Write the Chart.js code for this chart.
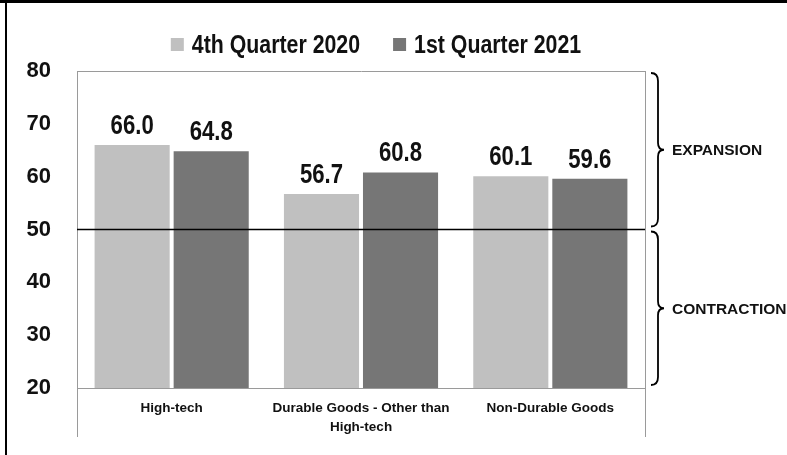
<!DOCTYPE html>
<html>
<head>
<meta charset="utf-8">
<script src="https://cdn.jsdelivr.net/npm/chart.js@4"></script>
<style>
  html, body { margin: 0; padding: 0; background: #fff; }
  #wrap { width: 787px; height: 455px; }
</style>
</head>
<body>
<div id="wrap"><canvas id="pmiChart" width="787" height="455"></canvas></div>
<script>
const categories = ['High-tech', ['Durable Goods - Other than', 'High-tech'], 'Non-Durable Goods'];
const seriesNames = ['4th Quarter 2020', '1st Quarter 2021'];
const q4_2020 = [66.0, 56.7, 60.1];
const q1_2021 = [64.8, 60.8, 59.6];
const yTicks = [20, 30, 40, 50, 60, 70, 80];
const threshold = 50;

const FONT = "'Liberation Sans', Arial, sans-serif";
const TEXT = '#111';
const colors = ['#c0c0c0', '#767676'];
const SQUEEZE = 0.82; // reference text is a condensed face

// condensed text helper
function narrowText(c, str, x, y) {
    c.save();
    c.translate(x, y);
    c.scale(SQUEEZE, 1);
    c.fillText(str, 0, 0);
    c.restore();
}

// frame, legend, 50-line, value labels, braces
const decor = {
    id: 'decor',
    beforeDraw(chart) {
        const c = chart.ctx;
        c.save();
        c.fillStyle = '#fff';
        c.fillRect(0, 0, chart.width, chart.height);
        c.restore();
    },
    afterDatasetsDraw(chart) {
        const c = chart.ctx;
        const a = chart.chartArea;
        const y = chart.scales.y;
        const bottomExt = 437;
        c.save();

        // plot frame
        c.strokeStyle = '#9a9a9a';
        c.lineWidth = 1;
        c.beginPath();
        c.moveTo(a.left + 0.5, a.top + 0.5);
        c.lineTo(a.right + 0.5, a.top + 0.5);
        c.moveTo(a.left + 0.5, a.top);
        c.lineTo(a.left + 0.5, bottomExt);
        c.moveTo(a.right + 0.5, a.top);
        c.lineTo(a.right + 0.5, bottomExt);
        c.moveTo(a.left, a.bottom + 0.5);
        c.lineTo(a.right, a.bottom + 0.5);
        c.stroke();

        // 50 line
        const y50 = y.getPixelForValue(threshold);
        c.strokeStyle = '#000';
        c.lineWidth = 1.3;
        c.beginPath();
        c.moveTo(a.left, y50);
        c.lineTo(a.right, y50);
        c.stroke();

        // value labels
        c.fillStyle = TEXT;
        c.font = 'bold 27px ' + FONT;
        c.textAlign = 'center';
        c.textBaseline = 'alphabetic';
        chart.data.datasets.forEach((ds, i) => {
            chart.getDatasetMeta(i).data.forEach((bar, j) => {
                narrowText(c, ds.data[j].toFixed(1), bar.x, bar.y - 11);
            });
        });

        // legend
        c.font = 'bold 26px ' + FONT;
        c.textAlign = 'left';
        const box = 13, boxGap = 8, itemGap = 33;
        const widths = seriesNames.map(n => c.measureText(n).width * SQUEEZE);
        const total = widths.reduce((s, w) => s + w + box + boxGap, 0) + itemGap;
        let lx = 376 - total / 2;
        const ly = 44;
        seriesNames.forEach((n, i) => {
            c.fillStyle = colors[i];
            c.fillRect(lx, ly - 6, box, box);
            c.fillStyle = TEXT;
            narrowText(c, n, lx + box + boxGap, ly + 9);
            lx += box + boxGap + widths[i] + itemGap;
        });

        // braces
        const bx = a.right + 10;
        function brace(v1, v2, label) {
            const t = y.getPixelForValue(v1) + 2;
            const b = y.getPixelForValue(v2) - 3;
            const m = (t + b) / 2;
            c.strokeStyle = '#000';
            c.lineWidth = 1.8;
            c.beginPath();
            c.moveTo(bx - 4, t);
            c.quadraticCurveTo(bx + 3, t, bx + 3, t + 8);
            c.lineTo(bx + 3, m - 7);
            c.quadraticCurveTo(bx + 3, m, bx + 9, m);
            c.quadraticCurveTo(bx + 3, m, bx + 3, m + 7);
            c.lineTo(bx + 3, b - 8);
            c.quadraticCurveTo(bx + 3, b, bx - 4, b);
            c.stroke();
            c.fillStyle = TEXT;
            c.font = 'bold 15.5px ' + FONT;
            c.textAlign = 'left';
            c.textBaseline = 'middle';
            c.fillText(label, bx + 17, m + 1);
        }
        brace(80, 50, 'EXPANSION');
        brace(50, 20, 'CONTRACTION');

        // outer frame
        c.fillStyle = '#000';
        c.fillRect(0, 0, chart.width, 3);
        c.fillRect(5, 0, 2, chart.height);
        c.restore();
    }
};

new Chart(document.getElementById('pmiChart'), {
    type: 'bar',
    data: {
        labels: categories,
        datasets: [
            { label: seriesNames[0], data: q4_2020, backgroundColor: colors[0] },
            { label: seriesNames[1], data: q1_2021, backgroundColor: colors[1] }
        ]
    },
    options: {
        responsive: false,
        animation: false,
        devicePixelRatio: 1,
        layout: { padding: { top: 71, right: 142, left: 0, bottom: 0 } },
        datasets: { bar: { categoryPercentage: 0.835, barPercentage: 0.95 } },
        plugins: {
            legend: { display: false },
            tooltip: { enabled: false }
        },
        scales: {
            x: {
                grid: { display: false, drawTicks: false },
                border: { display: false },
                ticks: {
                    color: TEXT,
                    padding: 11,
                    maxRotation: 0,
                    autoSkip: false,
                    font: { family: FONT, size: 13.5, weight: 'bold', lineHeight: 1.4 }
                },
                afterFit: s => { s.height = 67; }
            },
            y: {
                min: 20,
                max: 80,
                grid: { display: false, drawTicks: false },
                border: { display: false },
                afterBuildTicks: s => { s.ticks = yTicks.map(v => ({ value: v })); },
                ticks: {
                    color: TEXT,
                    padding: 26,
                    font: { family: FONT, size: 22, weight: 'bold' }
                },
                afterFit: s => { s.width = 77; }
            }
        }
    },
    plugins: [decor]
});
</script>
</body>
</html>
